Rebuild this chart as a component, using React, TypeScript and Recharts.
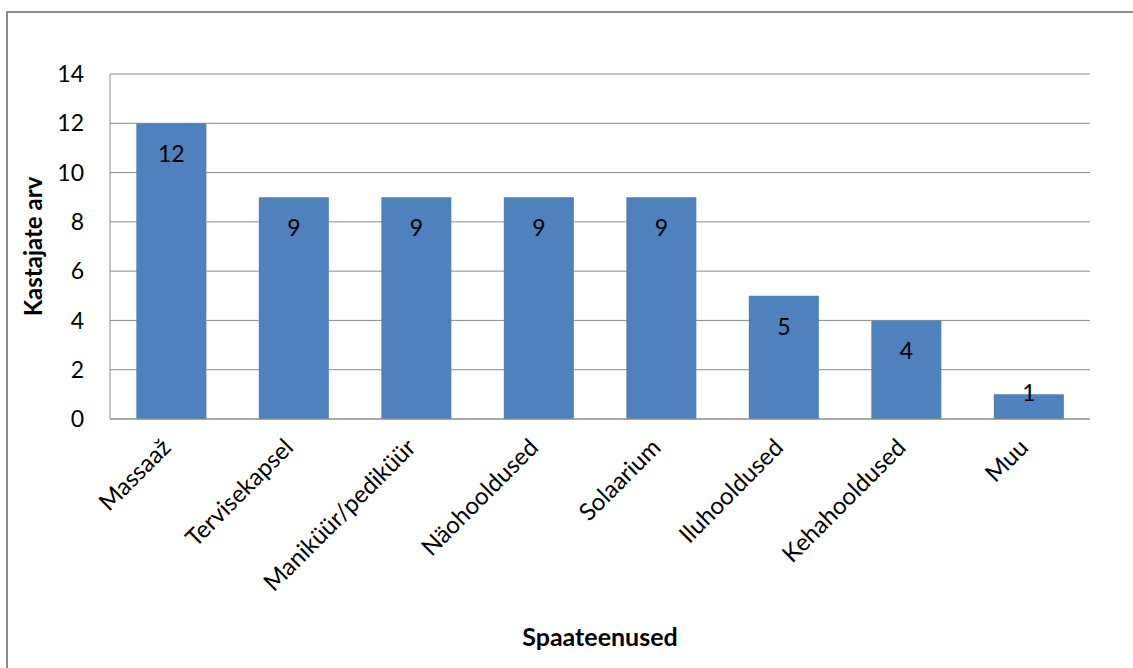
import { BarChart, Bar, XAxis, YAxis, CartesianGrid, LabelList } from "recharts";

const categories = [
  "Massaaž", "Tervisekapsel", "Maniküür/pediküür", "Näohooldused",
  "Solaarium", "Iluhooldused", "Kehahooldused", "Muu",
];
const counts = [12, 9, 9, 9, 9, 5, 4, 1];
const yTicks = [0, 2, 4, 6, 8, 10, 12, 14];

const FONT = "Lato, 'Open Sans', sans-serif";

const data = categories.map((name, i) => ({ name, value: counts[i] }));

function AngledTick(props: any) {
  const { x, y, payload } = props;
  const tx = x + 1;
  const ty = y + 22;
  return (
    <text
      x={tx}
      y={ty}
      textAnchor="end"
      transform={`rotate(-45, ${tx}, ${ty})`}
      fill="#000"
      fontSize={24}
      fontFamily={FONT}
    >
      {payload.value}
    </text>
  );
}

function InsideLabel(props: any) {
  const { x, y, width, height, value } = props;
  const cy = height >= 50 ? y + 30 : y - 2;
  return (
    <text
      x={x + width / 2}
      y={cy}
      textAnchor="middle"
      dominantBaseline="central"
      fill="#000"
      fontSize={23}
      fontFamily={FONT}
    >
      {value}
    </text>
  );
}

export default function App() {
  return (
    <div style={{ position: "absolute", left: 0, top: 0, width: 1133, height: 668, background: "#fff", overflow: "hidden" }}>
      <div
        style={{
          position: "absolute", left: 6, top: 11, width: 1150, height: 700,
          border: "2px solid #8c8c8c", boxSizing: "border-box",
        }}
      />
      <BarChart
        width={1133}
        height={668}
        data={data}
        margin={{ top: 74, right: 43, left: 0, bottom: 0 }}
        barCategoryGap="21.5%"
        style={{ position: "absolute", left: 0, top: 0 }}
      >
        <CartesianGrid vertical={false} stroke="#8c8c8c" strokeWidth={1} />
        <XAxis
          dataKey="name"
          height={249}
          interval={0}
          tickLine={false}
          axisLine={{ stroke: "#8c8c8c" }}
          tick={<AngledTick />}
          label={{
            value: "Spaateenused", position: "insideBottom", offset: 22,
            style: { fontSize: 25, fontWeight: "bold", fill: "#000", fontFamily: FONT },
          }}
        />
        <YAxis
          width={110}
          domain={[0, 14]}
          ticks={yTicks}
          interval={0}
          tickLine={false}
          axisLine={{ stroke: "#8c8c8c" }}
          tick={{ fontSize: 23, fill: "#000", fontFamily: FONT }}
          tickMargin={20}
          label={{
            value: "Kastajate arv", angle: -90, position: "insideLeft", offset: 33,
            style: { fontSize: 24, fontWeight: "bold", fill: "#000", fontFamily: FONT, textAnchor: "middle" },
          }}
        />
        <Bar dataKey="value" fill="#4f81bd" isAnimationActive={false}>
          <LabelList dataKey="value" content={<InsideLabel />} />
        </Bar>
      </BarChart>
    </div>
  );
}
